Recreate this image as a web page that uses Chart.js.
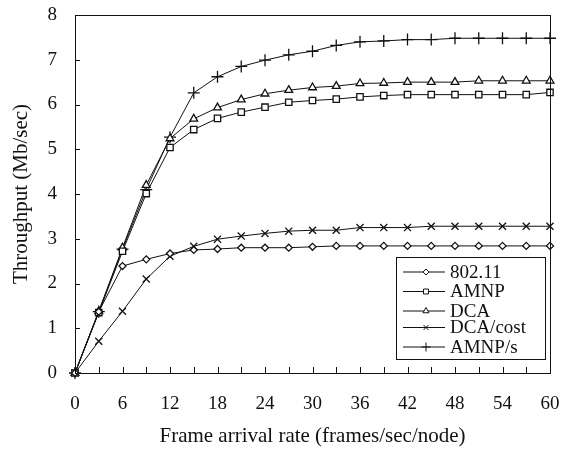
<!DOCTYPE html>
<html>
<head>
<meta charset="utf-8">
<script src="https://cdn.jsdelivr.net/npm/chart.js@4/dist/chart.umd.min.js"></script>
<style>
  html, body { margin: 0; padding: 0; background: #fff; }
  #wrap { width: 572px; height: 450px; }
</style>
</head>
<body>
<div id="wrap"><canvas id="lineChart" width="572" height="450"></canvas></div>
<script>
// frame arrival rate (frames/sec/node)
const rates = [0, 3, 6, 9, 12, 15, 18, 21, 24, 27, 30, 33, 36, 39, 42, 45, 48, 51, 54, 57, 60];

// throughput (Mb/sec)
const dot11   = [0, 1.37, 2.39, 2.54, 2.67, 2.75, 2.77, 2.80, 2.80, 2.80, 2.82, 2.84, 2.84, 2.84, 2.84, 2.84, 2.84, 2.84, 2.84, 2.84, 2.84];
const amnp    = [0, 1.35, 2.72, 4.01, 5.04, 5.44, 5.69, 5.83, 5.94, 6.05, 6.09, 6.12, 6.17, 6.20, 6.22, 6.22, 6.22, 6.22, 6.22, 6.22, 6.27];
const dca     = [0, 1.38, 2.80, 4.20, 5.24, 5.68, 5.93, 6.11, 6.24, 6.32, 6.38, 6.41, 6.47, 6.48, 6.50, 6.50, 6.50, 6.53, 6.53, 6.53, 6.53];
const dcaCost = [0, 0.71, 1.38, 2.10, 2.61, 2.83, 2.99, 3.06, 3.12, 3.17, 3.19, 3.19, 3.25, 3.25, 3.25, 3.28, 3.28, 3.28, 3.28, 3.28, 3.28];
const amnpS   = [0, 1.37, 2.77, 4.10, 5.27, 6.26, 6.62, 6.85, 6.99, 7.11, 7.19, 7.32, 7.40, 7.42, 7.45, 7.45, 7.48, 7.48, 7.48, 7.48, 7.48];

const seriesNames = ["802.11", "AMNP", "DCA", "DCA/cost", "AMNP/s"];
const xTicks = [0, 6, 12, 18, 24, 30, 36, 42, 48, 54, 60];
const yTicks = [0, 1, 2, 3, 4, 5, 6, 7, 8];

const FONT = "'Liberation Serif', 'Times New Roman', serif";
const INK = "#111";

function pts(vals) {
  return vals.map((v, i) => ({ x: rates[i], y: v }));
}

function ds(label, vals, style, radius, legendRadius) {
  return {
    label: label,
    data: pts(vals),
    borderColor: INK,
    borderWidth: 1,
    backgroundColor: "#fff",
    fill: false,
    tension: 0,
    clip: false,
    pointStyle: style,
    pointRadius: radius,
    legendRadius: legendRadius,
    pointBorderColor: INK,
    pointBackgroundColor: "#fff",
    pointBorderWidth: 1.3
  };
}

const datasets = [
  ds(seriesNames[0], dot11, "rectRot", 3.5, 3),
  ds(seriesNames[1], amnp, "rect", 4.5, 3.5),
  ds(seriesNames[2], dca, "triangle", 4.5, 3.5),
  ds(seriesNames[3], dcaCost, "crossRot", 5, 3.5),
  ds(seriesNames[4], amnpS, "cross", 6, 4.5)
];

// frame, inward ticks and boxed legend
const framePlugin = {
  id: "frame",
  afterDraw(chart) {
    const ctx = chart.ctx;
    const a = chart.chartArea;
    const xs = chart.scales.x, ys = chart.scales.y;
    ctx.save();
    ctx.strokeStyle = INK;
    ctx.lineWidth = 1;
    ctx.strokeRect(Math.round(a.left) + 0.5, Math.round(a.top) + 0.5,
                   Math.round(a.right - a.left), Math.round(a.bottom - a.top));
    ctx.beginPath();
    rates.forEach(r => {
      const px = Math.round(xs.getPixelForValue(r)) + 0.5;
      ctx.moveTo(px, a.bottom);
      ctx.lineTo(px, a.bottom - 6);
    });
    yTicks.forEach(t => {
      const py = Math.round(ys.getPixelForValue(t)) + 0.5;
      ctx.moveTo(a.left, py);
      ctx.lineTo(a.left + 5, py);
    });
    ctx.stroke();

    // legend box
    const bx = Math.round(a.right) - 154, by = Math.round(a.bottom) - 116, bw = 149, bh = 102;
    ctx.fillStyle = "#fff";
    ctx.fillRect(bx, by, bw, bh);
    ctx.strokeRect(bx + 0.5, by + 0.5, bw, bh);
    ctx.font = "19px " + FONT;
    ctx.textBaseline = "middle";
    ctx.textAlign = "left";
    const rows = [15, 34.5, 54, 70.5, 90];
    chart.data.datasets.forEach((d, i) => {
      const y = by + rows[i];
      ctx.beginPath();
      ctx.moveTo(bx + 7, y);
      ctx.lineTo(bx + 49, y);
      ctx.stroke();
      ctx.fillStyle = "#fff";
      Chart.helpers.drawPoint(ctx, {
        pointStyle: d.pointStyle,
        radius: d.legendRadius,
        rotation: 0,
        borderWidth: 1.2
      }, bx + 30, y);
      ctx.fillStyle = INK;
      ctx.fillText(d.label, bx + 54, y + 1);
    });
    ctx.restore();
  }
};

const chart = new Chart(document.getElementById("lineChart"), {
  type: "line",
  data: { datasets: datasets },
  options: {
    responsive: false,
    animation: false,
    layout: { padding: { left: 0, right: 22, top: 15, bottom: 0 } },
    plugins: {
      legend: { display: false },
      tooltip: { enabled: false }
    },
    scales: {
      x: {
        type: "linear",
        min: 0,
        max: 60,
        afterBuildTicks(scale) { scale.ticks = xTicks.map(v => ({ value: v })); },
        afterFit(scale) { scale.height = 77; },
        grid: { display: false },
        border: { display: true, color: INK, width: 1 },
        ticks: { color: INK, font: { family: FONT, size: 19 }, padding: 12, maxRotation: 0 },
        title: {
          display: true,
          text: "Frame arrival rate (frames/sec/node)",
          color: INK,
          font: { family: FONT, size: 21 },
          padding: { top: 10, bottom: 1 }
        }
      },
      y: {
        min: 0,
        max: 8,
        afterBuildTicks(scale) { scale.ticks = yTicks.map(v => ({ value: v })); },
        afterFit(scale) {
          scale.width = 75;
          scale.paddingTop = 0;
          scale.paddingBottom = 0;
        },
        grid: { display: false },
        border: { display: true, color: INK, width: 1 },
        ticks: { color: INK, font: { family: FONT, size: 19 }, padding: 10 },
        title: {
          display: true,
          text: "Throughput (Mb/sec)",
          color: INK,
          font: { family: FONT, size: 21 },
          padding: { top: 9, bottom: 0 }
        }
      }
    }
  },
  plugins: [framePlugin]
});
</script>
</body>
</html>
